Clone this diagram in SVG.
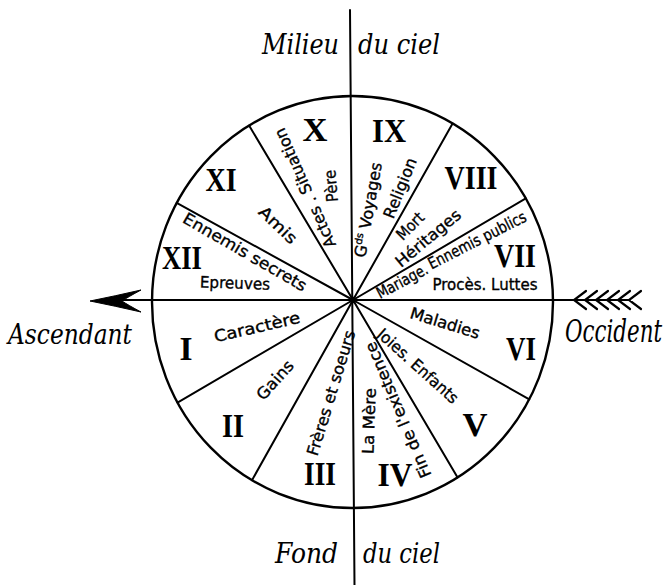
<svg xmlns="http://www.w3.org/2000/svg" width="671" height="585" viewBox="0 0 671 585">
<style>
.ln{stroke:#000;stroke-width:2;fill:none;stroke-linecap:round}
.fe{stroke:#000;stroke-width:2.2;fill:none;stroke-linecap:round;stroke-linejoin:miter}
.rim{stroke:#000;stroke-width:2.4;fill:none}
.num{font-family:"Liberation Serif","Times New Roman",serif;font-weight:bold;font-size:34px;text-anchor:middle;fill:#000}
.lab{font-family:"DejaVu Sans","Liberation Sans",sans-serif;font-size:16px;text-anchor:middle;fill:#000;stroke:#000;stroke-width:0.35}
.cap{font-family:"DejaVu Serif","Liberation Serif",serif;font-style:italic;font-size:27px;fill:#000}
</style>
<rect width="671" height="585" fill="#fff"/>
<g id="connectors">
  <line class="ln" x1="350" y1="10" x2="354.5" y2="585"/>
  <line class="ln" x1="100" y1="300" x2="630" y2="300"/>
  <line class="ln" x1="353" y1="300" x2="249.1" y2="125.5"/>
  <line class="ln" x1="353" y1="300" x2="176.7" y2="202.9"/>
  <line class="ln" x1="353" y1="300" x2="177.5" y2="402.6"/>
  <line class="ln" x1="353" y1="300" x2="252" y2="480.2"/>
  <line class="ln" x1="353" y1="300" x2="457.6" y2="477.4"/>
  <line class="ln" x1="353" y1="300" x2="529.3" y2="399.3"/>
  <line class="ln" x1="353" y1="300" x2="525.8" y2="198.4"/>
  <line class="ln" x1="353" y1="300" x2="452.6" y2="123.5"/>
  <ellipse class="rim" cx="352.5" cy="302" rx="200.5" ry="206"/>
  <circle cx="353" cy="300" r="3.2" fill="#000"/>
  <path d="M90,301 Q115,296 141,290 Q128,297 122,301 Q128,305 141,312 Q115,306 90,301 Z" fill="#000" stroke="#000" stroke-width="1"/>
  <path class="fe" d="M586,291 L574,300 L586,309 M597,291 L585,300 L597,309 M608,291 L596,300 L608,309 M619,291 L607,300 L619,309 M630,291 L618,300 L630,309 M641,291 L629,300 L641,309"/>
</g>
<g id="house-I">
  <text class="num" x="186" y="359.5" textLength="13" lengthAdjust="spacingAndGlyphs">I</text>
  <text class="lab" transform="translate(257,327) rotate(-13)" dy="0.35em" font-size="19" textLength="88" lengthAdjust="spacingAndGlyphs">Caractère</text>
</g>
<g id="house-II">
  <text class="num" x="233" y="436.5" textLength="22" lengthAdjust="spacingAndGlyphs">II</text>
  <text class="lab" transform="translate(275,380) rotate(-48)" dy="0.35em" font-size="18" textLength="47" lengthAdjust="spacingAndGlyphs">Gains</text>
</g>
<g id="house-III">
  <text class="num" x="320" y="484.5" textLength="32" lengthAdjust="spacingAndGlyphs">III</text>
  <text class="lab" transform="translate(331,393) rotate(-73)" dy="0.35em" font-size="17" textLength="130" lengthAdjust="spacingAndGlyphs">Frères et soeurs</text>
</g>
<g id="house-IV">
  <text class="num" x="395" y="485.5" textLength="35" lengthAdjust="spacingAndGlyphs">IV</text>
  <text class="lab" transform="translate(369,421) rotate(-88)" dy="0.35em" font-size="17" textLength="66" lengthAdjust="spacingAndGlyphs">La Mère</text>
  <text class="lab" transform="translate(398,410) rotate(-113)" dy="0.35em" font-size="17" textLength="146" lengthAdjust="spacingAndGlyphs">Fin de l'existence</text>
</g>
<g id="house-V">
  <text class="num" x="475" y="435.5" textLength="25" lengthAdjust="spacingAndGlyphs">V</text>
  <text class="lab" transform="translate(418,366) rotate(42)" dy="0.35em" font-size="17" textLength="103" lengthAdjust="spacingAndGlyphs">Joies. Enfants</text>
</g>
<g id="house-VI">
  <text class="num" x="521" y="359.5" textLength="30" lengthAdjust="spacingAndGlyphs">VI</text>
  <text class="lab" transform="translate(445,323) rotate(17)" dy="0.35em" font-size="17" textLength="72" lengthAdjust="spacingAndGlyphs">Maladies</text>
</g>
<g id="house-VII">
  <text class="num" x="515" y="266.5" textLength="42" lengthAdjust="spacingAndGlyphs">VII</text>
  <text class="lab" transform="translate(402,281) rotate(-28)" dy="0.35em" font-size="13" textLength="56" lengthAdjust="spacingAndGlyphs">Mariage.</text>
  <text class="lab" transform="translate(477,240) rotate(-27)" dy="0.35em" font-size="15" textLength="108" lengthAdjust="spacingAndGlyphs">Ennemis publics</text>
  <text class="lab" x="485" y="284" dy="0.35em" font-size="16" textLength="105" lengthAdjust="spacingAndGlyphs">Procès. Luttes</text>
</g>
<g id="house-VIII">
  <text class="num" x="471" y="188.5" textLength="53" lengthAdjust="spacingAndGlyphs">VIII</text>
  <text class="lab" transform="translate(410,226) rotate(-45)" dy="0.35em" font-size="17" textLength="32" lengthAdjust="spacingAndGlyphs">Mort</text>
  <text class="lab" transform="translate(428,238) rotate(-40)" dy="0.35em" font-size="17" textLength="80" lengthAdjust="spacingAndGlyphs">Héritages</text>
</g>
<g id="house-IX">
  <text class="num" x="389" y="141.5" textLength="34" lengthAdjust="spacingAndGlyphs">IX</text>
  <text class="lab" transform="translate(368,210) rotate(-80)" dy="0.35em" font-size="16">G<tspan font-size="10" dy="-6">ds</tspan><tspan dy="6"> Voyages</tspan></text>
  <text class="lab" transform="translate(400,188) rotate(-68)" dy="0.35em" font-size="17" textLength="64" lengthAdjust="spacingAndGlyphs">Religion</text>
</g>
<g id="house-X">
  <text class="num" x="315" y="140.5" textLength="25" lengthAdjust="spacingAndGlyphs">X</text>
  <text class="lab" transform="translate(305,188) rotate(-114)" dy="0.35em" font-size="16" textLength="129" lengthAdjust="spacingAndGlyphs">Actes . Situation</text>
  <text class="lab" transform="translate(331,186) rotate(-95)" dy="0.35em" font-size="16" textLength="32" lengthAdjust="spacingAndGlyphs">Père</text>
</g>
<g id="house-XI">
  <text class="num" x="221" y="190.5" textLength="31" lengthAdjust="spacingAndGlyphs">XI</text>
  <text class="lab" transform="translate(278,225) rotate(44)" dy="0.35em" font-size="19" textLength="46" lengthAdjust="spacingAndGlyphs">Amis</text>
</g>
<g id="house-XII">
  <text class="num" x="182" y="268.5" textLength="40" lengthAdjust="spacingAndGlyphs">XII</text>
  <text class="lab" transform="translate(245,252) rotate(30)" dy="0.35em" font-size="18" textLength="140" lengthAdjust="spacingAndGlyphs">Ennemis secrets</text>
  <text class="lab" transform="translate(235,283) rotate(2)" dy="0.35em" font-size="16" textLength="70" lengthAdjust="spacingAndGlyphs">Epreuves</text>
</g>
<g id="milieu-du-ciel">
  <text class="cap" x="262" y="54" textLength="77" lengthAdjust="spacingAndGlyphs">Milieu</text>
  <text class="cap" x="358" y="54" textLength="82" lengthAdjust="spacingAndGlyphs">du ciel</text>
</g>
<g id="fond-du-ciel">
  <text class="cap" x="275" y="563" textLength="63" lengthAdjust="spacingAndGlyphs">Fond</text>
  <text class="cap" x="363" y="563" textLength="77" lengthAdjust="spacingAndGlyphs">du ciel</text>
</g>
<g id="ascendant">
  <text class="cap" x="8" y="344" textLength="124" lengthAdjust="spacingAndGlyphs">Ascendant</text>
</g>
<g id="occident">
  <text class="cap" transform="translate(565,342) scale(1,1.2)" font-size="22" textLength="97" lengthAdjust="spacingAndGlyphs">Occident</text>
</g>
</svg>
